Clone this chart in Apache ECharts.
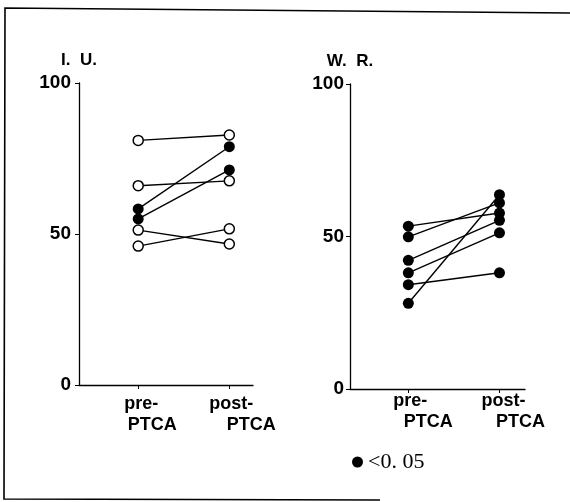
<!DOCTYPE html>
<html>
<head>
<meta charset="utf-8">
<script src="https://cdn.jsdelivr.net/npm/echarts@6/dist/echarts.min.js"></script>
<style>
  html, body { margin: 0; padding: 0; background: #fff; }
  #chart-container { width: 570px; height: 502px; }
</style>
</head>
<body>
<div id="chart-container"></div>
<script>
var dom = document.getElementById('chart-container');
var myChart = echarts.init(dom, null, { renderer: 'canvas' });

// I. U. panel (pre / post PTCA, one pair per patient)
const iuPre  = [81, 66, 58.3, 55, 51.3, 46];
const iuPost = [82.8, 67.6, 78.9, 71.2, 46.7, 51.7];
const iuSig  = [false, false, true, true, false, false];

// W. R. panel
const wrPre  = [53.4, 49.9, 42.2, 38.1, 34.2, 28.1];
const wrPost = [57.7, 61.0, 55.3, 51.2, 38.1, 63.7];
const wrSig  = [true, true, true, true, true, true];

const xPositions = [1, 2];
const yTicks = [0, 50, 100];
const sigName = '<0. 05';

const font = 'Liberation Sans, Arial, sans-serif';

function buildSeries(pre, post, sig, idx) {
    return pre.map(function (v, i) {
        return {
            type: 'line',
            name: sig[i] ? sigName : 'ns',
            xAxisIndex: idx,
            yAxisIndex: idx,
            data: [[xPositions[0], v], [xPositions[1], post[i]]],
            symbol: 'circle',
            symbolSize: sig[i] ? 11 : 10,
            itemStyle: sig[i]
                ? { color: '#000', borderColor: '#000', borderWidth: 0 }
                : { color: '#fff', borderColor: '#000', borderWidth: 1.5 },
            lineStyle: { color: '#000', width: 1.4 },
            z: sig[i] ? 3 : 2,
            silent: true
        };
    });
}

function xAxis(idx, min, max, pads) {
    var st = { fontFamily: font, fontWeight: 'bold', fontSize: 18, color: '#000', lineHeight: 21 };
    return {
        type: 'value',
        gridIndex: idx,
        min: min,
        max: max,
        splitLine: { show: false },
        axisLine: { lineStyle: { color: '#000', width: 1.3 } },
        axisTick: { customValues: xPositions, length: 4, lineStyle: { color: '#000' } },
        axisLabel: {
            customValues: xPositions,
            margin: idx === 0 ? 9 : 2,
            formatter: function (v) {
                return v === 1 ? '{a|pre-}\n{b|PTCA}' : '{c|post-}\n{d|PTCA}';
            },
            rich: {
                a: Object.assign({ padding: [0, 0, 0, pads[0]] }, st),
                b: Object.assign({ padding: [0, 0, 0, pads[1]] }, st),
                c: Object.assign({ padding: [0, 0, 0, pads[2]] }, st),
                d: Object.assign({ padding: [0, 0, 0, pads[3]] }, st)
            }
        }
    };
}

function yAxis(idx, name, margin) {
    return {
        type: 'value',
        gridIndex: idx,
        min: 0,
        max: 100,
        interval: 50,
        name: name,
        nameLocation: 'end',
        nameGap: 14,
        nameTextStyle: { fontFamily: font, fontWeight: 'bold', fontSize: 17, color: '#000', align: 'center' },
        splitLine: { show: false },
        axisLine: { show: true, lineStyle: { color: '#000', width: 1.3 } },
        axisTick: { show: true, length: 4, lineStyle: { color: '#000' } },
        axisLabel: {
            margin: margin,
            fontFamily: font,
            fontWeight: 'bold',
            fontSize: 19,
            color: '#000',
            formatter: function (v) { return yTicks.indexOf(v) >= 0 ? String(v) : ''; }
        }
    };
}

var option = {
    animation: false,
    backgroundColor: '#fff',
    grid: [
        { left: 79, width: 174, top: 83, height: 302 },
        { left: 350, width: 175, top: 84, height: 305 }
    ],
    xAxis: [
        xAxis(0, 0.35, 2.26, [6, 28, 4, 44]),
        xAxis(1, 0.36, 2.28, [4, 40, 8, 42])
    ],
    yAxis: [
        yAxis(0, 'I.  U.', 8),
        yAxis(1, 'W.  R.', 6)
    ],
    legend: {
        data: [{ name: sigName, icon: 'circle' }],
        left: 347,
        top: 446,
        itemWidth: 11,
        itemHeight: 11,
        itemGap: 8,
        selectedMode: false,
        textStyle: { fontFamily: 'Liberation Serif, Times New Roman, serif', fontSize: 22, color: '#000' }
    },
    graphic: [
        {
            type: 'polyline',
            shape: { points: [[570, 13], [5, 8], [4, 499], [380, 500]] },
            style: { stroke: '#000', lineWidth: 1.6, fill: null },
            silent: true
        }
    ],
    series: buildSeries(iuPre, iuPost, iuSig, 0).concat(buildSeries(wrPre, wrPost, wrSig, 1))
};

if (option && typeof option === 'object') {
    myChart.setOption(option);
}

window.addEventListener('resize', myChart.resize);
</script>
</body>
</html>
